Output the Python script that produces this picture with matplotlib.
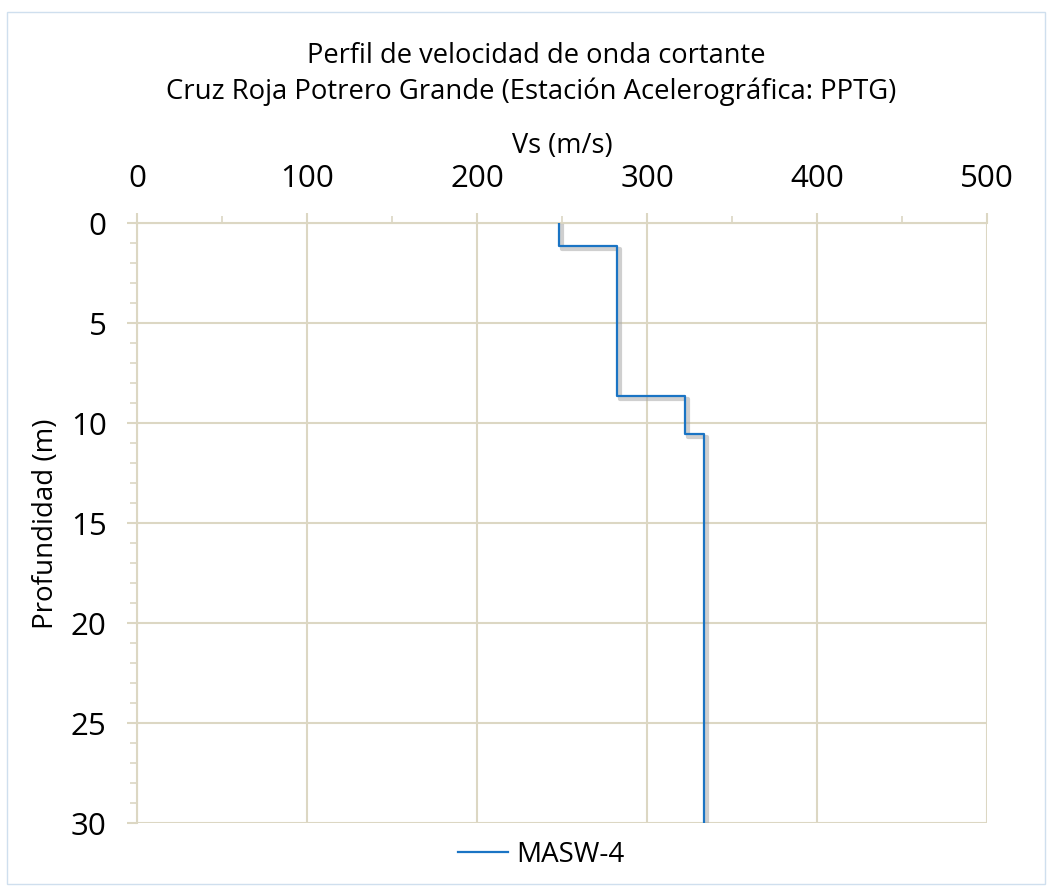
import matplotlib
matplotlib.use("Agg")
import matplotlib.pyplot as plt
import matplotlib.patheffects as pe
from matplotlib.patches import Rectangle
from matplotlib.lines import Line2D
from matplotlib.ticker import MultipleLocator

# Data: shear wave velocity profile (step profile)
vs_layers = [248, 282, 322, 333.5]          # m/s
depth_tops = [0.0, 1.12, 8.62, 10.52]       # m
depth_bottom = 30.0
series_name = "MASW-4"

x_ticks = [0, 100, 200, 300, 400, 500]
y_ticks = [0, 5, 10, 15, 20, 25, 30]

# Build step line from layers
xs, ys = [], []
bottoms = depth_tops[1:] + [depth_bottom]
for v, t, b in zip(vs_layers, depth_tops, bottoms):
    xs += [v, v]
    ys += [t, b]

plt.rcParams['font.family'] = ['Open Sans', 'DejaVu Sans']

W, H = 1052, 890
fig = plt.figure(figsize=(W/100, H/100), dpi=100)
fig.patches.append(Rectangle((7/W, 1-884/H), 1038/W, 872/H, transform=fig.transFigure,
                             fill=False, edgecolor='#cfdfee', linewidth=1.0))

ax = fig.add_axes([137.3/W, 1-823.3/H, 850/W, 600/H])
grid_c = '#dcd7c3'
line_c = '#1a74c4'
ax.plot(xs, ys, color=line_c, linewidth=1.6,
        path_effects=[pe.SimpleLineShadow(offset=(2.2, -2.2), shadow_color='#a8a8a8', alpha=0.55, linewidth=3.0),
                      pe.Normal()], zorder=3)

ax.set_xlim(0, 500)
ax.set_ylim(30, 0)
ax.xaxis.tick_top()
ax.xaxis.set_label_position('top')
ax.set_xticks(x_ticks)
ax.set_yticks(y_ticks)
ax.xaxis.set_minor_locator(MultipleLocator(50))
ax.yaxis.set_minor_locator(MultipleLocator(1))
ax.grid(True, which='major', color=grid_c, linewidth=1.5)
for s in ax.spines.values():
    s.set_visible(False)
for k in ('top', 'left'):
    ax.spines[k].set_visible(True)
    ax.spines[k].set_color(grid_c)
    ax.spines[k].set_linewidth(1.5)
ax.tick_params(axis='both', which='major', length=7, width=1.5, color=grid_c, labelsize=22.5)
ax.tick_params(axis='both', which='minor', length=5, width=1.2, color=grid_c)
ax.tick_params(axis='x', which='major', pad=14)
ax.tick_params(axis='y', which='major', pad=15)
ax.set_xlabel('Vs (m/s)', fontsize=19.5, labelpad=8)
ax.set_ylabel('Profundidad (m)', fontsize=20, labelpad=8)

fig.text(536/W, 1-63/H, 'Perfil de velocidad de onda cortante', ha='center', va='baseline', fontsize=19.6)
fig.text(531/W, 1-99/H, 'Cruz Roja Potrero Grande (Estación Acelerográfica: PPTG)', ha='center', va='baseline', fontsize=19.8)

handle = Line2D([], [], color=line_c, linewidth=1.6)
fig.legend(handles=[handle], labels=[series_name], loc='center', bbox_to_anchor=(541/W, 1-855/H), frameon=False,
           fontsize=20, handlelength=1.8, handletextpad=0.3)

fig.savefig('out.png', dpi=100)
